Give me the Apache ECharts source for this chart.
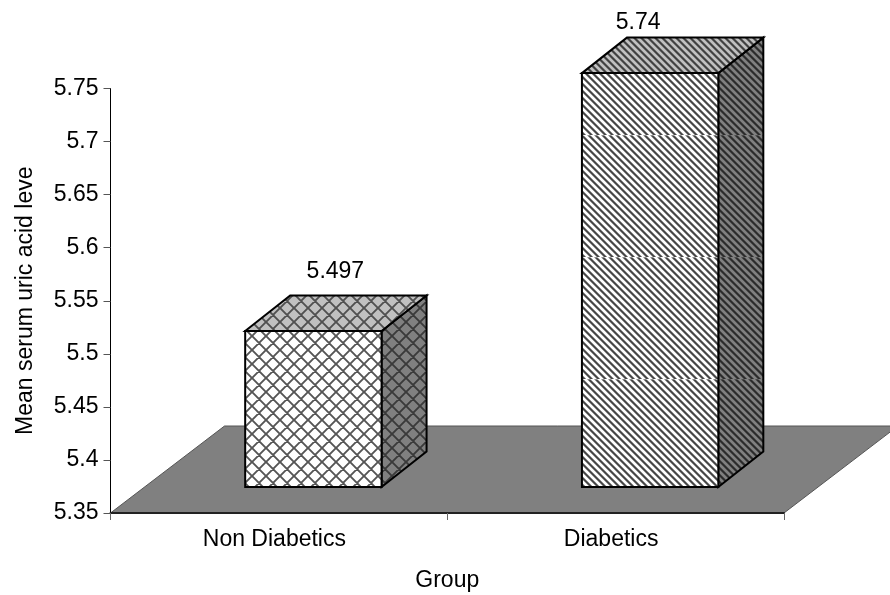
<!DOCTYPE html>
<html>
<head>
<meta charset="utf-8">
<style>html,body{margin:0;padding:0;background:#fff}#chart{width:890px;height:595px}</style>
<script src="https://cdn.jsdelivr.net/npm/echarts@6/dist/echarts.min.js"></script>
</head>
<body>
<div id="chart"></div>
<script>
const groups = ['Non Diabetics', 'Diabetics'];
const meanUricAcid = [5.497, 5.74];
const valueLabels = ['5.497', '5.74'];
const barHatch = ['cross', 'stripe'];
const axisMin = 5.35;
const axisMax = 5.75;
const axisStep = 0.05;

const FONT = '"Liberation Sans", Arial, sans-serif';
const LABEL_SIZE = 23;

// Oblique projection used by the pseudo 3D floor and columns.
const FLOOR_DEPTH = [114, 87];
const BAR_INSET = [34.5, 26];
const BAR_DEPTH = [45, 35.5];
const BAR_WIDTH_RATIO = 0.405;
// Value label anchors, measured from the top centre of each column's front face.
const LABEL_ANCHORS = [[22, -59], [-12, -50]];

// Builds a repeating fill: a base tone carrying a cross-hatch or diagonal stripes.
function hatchTile(kind, base, ink) {
  const c = document.createElement('canvas');
  if (kind === 'cross') {
    const p = 14;
    c.width = p; c.height = p;
    const g = c.getContext('2d');
    g.fillStyle = base;
    g.fillRect(0, 0, p, p);
    g.strokeStyle = ink;
    g.lineWidth = 1.9;
    g.beginPath();
    for (let k = -1; k <= 1; k++) {
      g.moveTo(k * p, 0); g.lineTo(k * p + p, p);
      g.moveTo(k * p + p, 0); g.lineTo(k * p, p);
    }
    g.stroke();
  } else {
    // Tall tile: the stripes slip slightly once per repeat, leaving a faint seam.
    const p = 7, h = 122, seam = 13;
    c.width = p; c.height = h;
    const g = c.getContext('2d');
    g.fillStyle = base;
    g.fillRect(0, 0, p, h);
    for (let y = 0; y < h; y++) {
      const row = (y - seam + h) % h;
      for (let x = 0; x < p; x++) {
        const d = ((x - row) % p + p) % p;
        const a = d < 2 ? 0.9 : (d === 2 || d === 6) ? 0.5 : 0;
        if (a) {
          g.globalAlpha = row === 0 ? a * 0.65 : a;
          g.fillStyle = ink;
          g.fillRect(x, y, 1, 1);
        }
      }
    }
    g.globalAlpha = 1;
  }
  return { image: c, repeat: 'repeat' };
}

const faceFills = {
  cross: {
    front: hatchTile('cross', '#ffffff', '#555555'),
    top: hatchTile('cross', '#c0c0c0', '#505050'),
    side: hatchTile('cross', '#808080', '#3a3a3a')
  },
  stripe: {
    front: hatchTile('stripe', '#ffffff', '#333333'),
    top: hatchTile('stripe', '#c0c0c0', '#333333'),
    side: hatchTile('stripe', '#808080', '#222222')
  }
};

function renderFloor(params, api) {
  const cs = params.coordSys;
  const left = cs.x, right = cs.x + cs.width;
  const y = api.coord([0, axisMin])[1];
  return {
    type: 'polygon',
    shape: { points: [
      [left, y],
      [left + FLOOR_DEPTH[0], y - FLOOR_DEPTH[1]],
      [right + FLOOR_DEPTH[0], y - FLOOR_DEPTH[1]],
      [right, y]
    ] },
    style: { fill: '#808080', stroke: '#555555', lineWidth: 1 }
  };
}

function renderBar(params, api) {
  const idx = api.value(0);
  const val = api.value(1);
  const band = api.size([1, 0])[0];
  const w = band * BAR_WIDTH_RATIO;
  const cx = api.coord([idx, val])[0] + BAR_INSET[0];
  const x0 = cx - w / 2, x1 = cx + w / 2;
  const yb = api.coord([idx, axisMin])[1] - BAR_INSET[1];
  const yt = api.coord([idx, val])[1] - BAR_INSET[1];
  const dx = BAR_DEPTH[0], dy = BAR_DEPTH[1];
  const fills = faceFills[barHatch[params.dataIndex]];
  const anchor = LABEL_ANCHORS[params.dataIndex];
  const edge = { stroke: '#000000', lineWidth: 2, lineJoin: 'miter' };
  const face = (points, fill) => ({
    type: 'polygon',
    shape: { points },
    style: Object.assign({ fill }, edge)
  });
  return {
    type: 'group',
    children: [
      face([[x1, yb], [x1 + dx, yb - dy], [x1 + dx, yt - dy], [x1, yt]], fills.side),
      face([[x0, yt], [x0 + dx, yt - dy], [x1 + dx, yt - dy], [x1, yt]], fills.top),
      face([[x0, yb], [x0, yt], [x1, yt], [x1, yb]], fills.front),
      {
        type: 'text',
        style: {
          text: valueLabels[params.dataIndex],
          x: cx + anchor[0],
          y: yt + anchor[1],
          fill: '#000000',
          font: LABEL_SIZE + 'px ' + FONT,
          textAlign: 'center',
          textVerticalAlign: 'middle'
        }
      }
    ]
  };
}

const chart = echarts.init(document.getElementById('chart'));
chart.setOption({
  animation: false,
  backgroundColor: '#ffffff',
  textStyle: { fontFamily: FONT },
  grid: { left: 110.5, right: 106, top: 88.5, bottom: 82, containLabel: false, outerBoundsMode: 'none' },
  xAxis: {
    type: 'category',
    data: groups,
    z: 5,
    name: 'Group',
    nameLocation: 'middle',
    nameGap: 56,
    nameTextStyle: { fontSize: LABEL_SIZE, color: '#000', fontFamily: FONT },
    axisLine: { lineStyle: { color: '#222', width: 2 } },
    axisTick: { show: true, length: 7, lineStyle: { color: '#666', width: 1 } },
    axisLabel: { fontSize: LABEL_SIZE, color: '#000', margin: 15, padding: [0, 9, 0, 0], fontFamily: FONT }
  },
  yAxis: {
    type: 'value',
    min: axisMin,
    max: axisMax,
    interval: axisStep,
    z: 5,
    name: 'Mean serum uric acid leve',
    nameLocation: 'middle',
    nameGap: 73,
    nameRotate: 90,
    nameTextStyle: { fontSize: LABEL_SIZE, color: '#000', fontFamily: FONT },
    splitLine: { show: false },
    axisLine: { show: true, lineStyle: { color: '#000', width: 1 } },
    axisTick: { show: true, length: 7, lineStyle: { color: '#555', width: 1 } },
    axisLabel: {
      fontSize: LABEL_SIZE,
      color: '#000',
      margin: 12,
      fontFamily: FONT,
      formatter: v => String(parseFloat(v.toFixed(2)))
    }
  },
  series: [
    {
      type: 'custom',
      clip: false,
      silent: true,
      z: 2,
      renderItem: renderFloor,
      data: [[0, axisMin]]
    },
    {
      type: 'custom',
      clip: false,
      silent: true,
      z: 3,
      renderItem: renderBar,
      encode: { x: 0, y: 1 },
      data: meanUricAcid.map((v, i) => [i, v])
    }
  ]
});
</script>
</body>
</html>
